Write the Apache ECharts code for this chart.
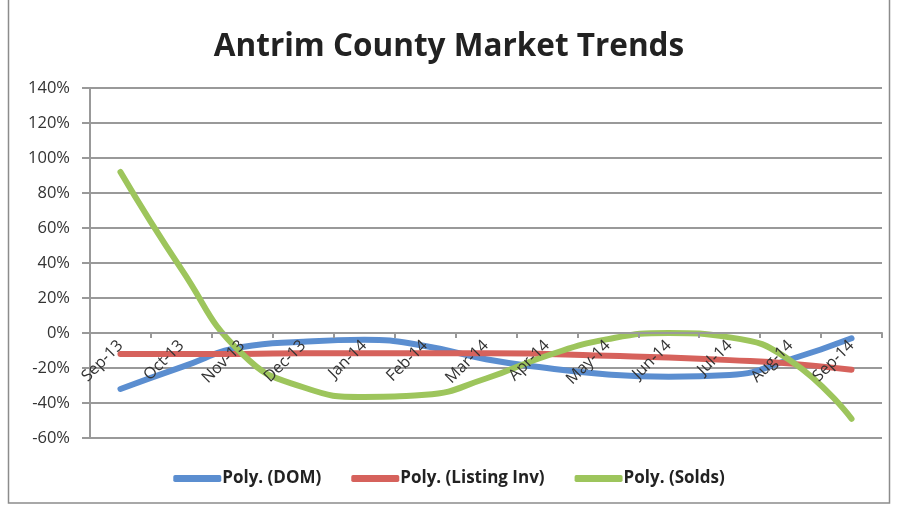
<!DOCTYPE html>
<html><head><meta charset="utf-8">
<script src="https://cdn.jsdelivr.net/npm/echarts@6/dist/echarts.min.js"></script>
<style>html,body{margin:0;padding:0;background:#fff}#c{width:898px;height:508px}</style>
</head><body><div id="c"></div>
<script>
const categories = ['Sep-13','Oct-13','Nov-13','Dec-13','Jan-14','Feb-14','Mar-14','Apr-14','May-14','Jun-14','Jul-14','Aug-14','Sep-14'];
const domValues = [-32, -19.5, -8, -5, -3.8, -7.4, -15, -20, -23.7, -25, -24, -15, -3];
const listingInvValues = [-12, -12, -12, -11.5, -11.5, -11.5, -11.5, -12, -13, -14, -15.5, -17.5, -21];
const soldsValues = [92, 36.5, -12, -31, -36.5, -35.3, -26, -13, -3.5, 0, -2.5, -15.8, -49];
const yTicks = {min: -60, max: 140, interval: 20};

const chart = echarts.init(document.getElementById('c'));
const mk = (name, data, color) => ({
  name, type: 'line', data, smooth: 0.5, showSymbol: false, symbol: 'none',
  lineStyle: {width: 6, color, cap: 'round', join: 'round'},
  itemStyle: {color}, z: 3
});
chart.setOption({
  animation: false,
  graphic: [{type: 'rect', shape: {x: 8.5, y: -2, width: 881, height: 505}, style: {fill: 'none', stroke: '#8c8c8c', lineWidth: 1.5}, silent: true, z: -1}],
  title: {text: 'Antrim County Market Trends', left: 'center', top: 26,
    textStyle: {fontFamily: 'Open Sans', fontWeight: 'bold', fontSize: 31.5, color: '#222'}},
  grid: {left: 90, right: 16, top: 88, bottom: 70},
  legend: {bottom: 16, left: 'center', itemWidth: 48, itemHeight: 7, itemGap: 30,
    icon: 'roundRect',
    textStyle: {fontFamily: 'Open Sans', fontWeight: 'bold', fontSize: 17, color: '#222', padding: [0, 0, 0, -4]},
    data: ['Poly. (DOM)', 'Poly. (Listing Inv)', 'Poly. (Solds)']},
  xAxis: {type: 'category', data: categories, boundaryGap: true, z: 5,
    axisLine: {onZero: true, lineStyle: {color: '#999', width: 2}},
    axisTick: {show: true, length: 5, inside: false, lineStyle: {color: '#999', width: 2}},
    axisLabel: {rotate: 45, margin: -95, fontFamily: 'Open Sans', fontSize: 16, color: '#333', interval: 0}},
  yAxis: {type: 'value', min: yTicks.min, max: yTicks.max, interval: yTicks.interval,
    axisLine: {show: true, lineStyle: {color: '#999', width: 2}},
    axisTick: {show: true, length: 8, lineStyle: {color: '#999', width: 2}},
    splitLine: {lineStyle: {color: '#999', width: 2}},
    axisLabel: {formatter: '{value}%', fontFamily: 'Open Sans', fontSize: 16.5, color: '#333', margin: 20}},
  series: [
    mk('Poly. (DOM)', domValues, '#5B8ED0'),
    mk('Poly. (Listing Inv)', listingInvValues, '#D6625C'),
    mk('Poly. (Solds)', soldsValues, '#9DC55C')
  ]
});
</script></body></html>
